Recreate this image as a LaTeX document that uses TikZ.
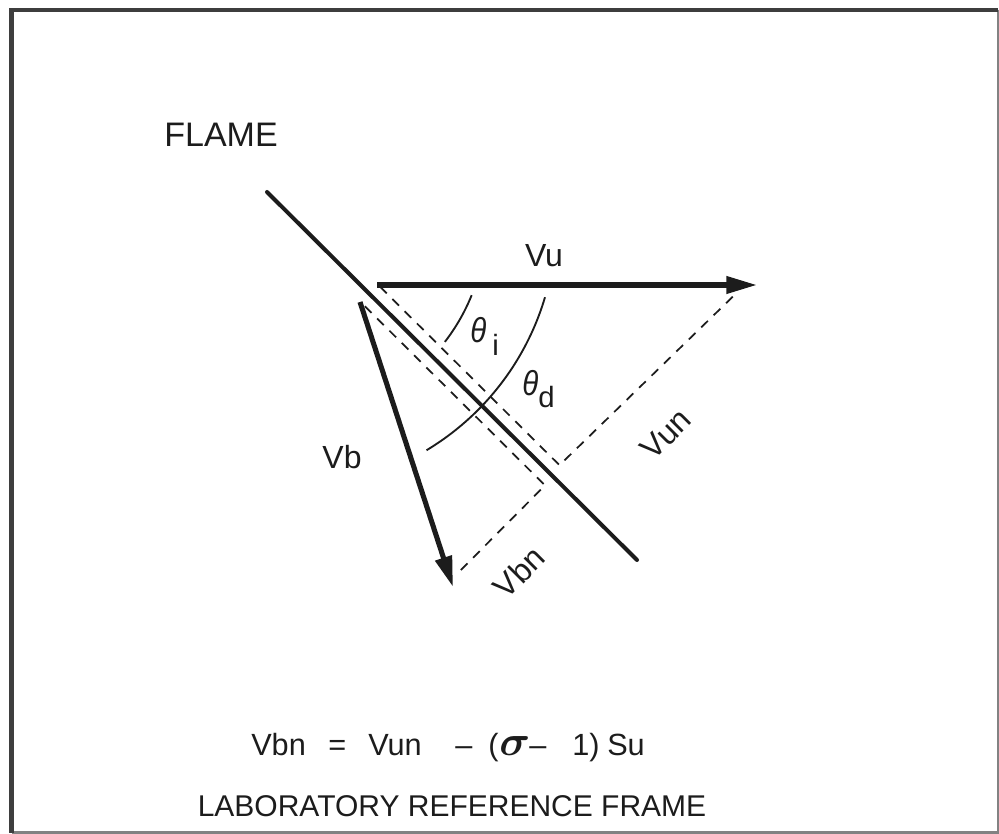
\RequirePackage{fix-cm}
\documentclass[tikz,border=0pt]{standalone}
\usepackage{fontspec}
\usepackage{amsmath}
\setmainfont{Liberation Sans}
\usetikzlibrary{arrows.meta}
\definecolor{ink}{HTML}{1C1C1C}
\newcommand\myfs[1]{\fontsize{#1}{#1}\selectfont}
\newcommand\mytheta{\scalebox{0.85}[1]{\itshape θ}}
\begin{document}
\begin{tikzpicture}[x=0.75pt,y=-0.75pt,
  lbl/.style={inner sep=0pt, text=ink, font=\myfs{24pt}},
  eqtxt/.style={inner sep=0pt, text=ink, font=\myfs{23pt}, anchor=base west},
  thetatxt/.style={inner sep=0pt, text=ink, font=\myfs{26pt}, anchor=base west},
  subtxt/.style={inner sep=0pt, text=ink, font=\myfs{22pt}, anchor=base west},
  vecline/.style={line width=3.8pt, draw=ink, -{Triangle[length=23pt,width=12.5pt]}},
  flameline/.style={line width=3pt, draw=ink, line cap=round},
  dashline/.style={line width=1.3pt, draw=ink, dash pattern=on 7pt off 6pt},
  arcline/.style={line width=1.4pt, draw=ink},
  frameline/.style={line width=3.5pt, draw=ink!85},
  framethin/.style={line width=1.6pt, draw=ink!55}
]
\useasboundingbox (0,0) rectangle (999,834);
\fill[white] (0,0) rectangle (999,834);
% frame
\coordinate (bTL) at (11.5,10);
\coordinate (bTR) at (998,10);
\coordinate (bBR) at (998,832.5);
\coordinate (bBL) at (11.5,832.5);
\draw[framethin] (bTR) -- (bBR) -- (bBL);
\draw[frameline] (bBL) -- (bTL) -- (bTR);
% geometry points
\coordinate (fA) at (267,192);
\coordinate (fB) at (637,560);
\coordinate (vuT) at (377,285);
\coordinate (vuH) at (757,285);
\coordinate (vbT) at (360,302);
\coordinate (vbH) at (453,587);
\coordinate (uA) at (380.1,286.8);
\coordinate (uF) at (559.5,465.2);
\coordinate (uE) at (735,294.5);
\coordinate (lA) at (364.9,306.3);
\coordinate (lF) at (545,485.4);
\coordinate (lE) at (456.8,574.1);
% dashed construction lines
\draw[dashline] (uA) -- (uF) -- (uE);
\draw[dashline] (lA) -- (lF) -- (lE);
% angle arcs (common centre 289,221.4)
\draw[arcline] plot[domain=22:37.7, samples=30, smooth] ({289+197*cos(\x)},{221.4+197*sin(\x)});
\draw[arcline] plot[domain=16.5:59, samples=40, smooth] ({289+267*cos(\x)},{221.4+267*sin(\x)});
% flame
\draw[flameline] (fA) -- (fB);
% vectors
\draw[vecline] (vuT) -- (vuH);
\draw[vecline] (vbT) -- (vbH);
% labels
\node[inner sep=0pt, text=ink, font=\myfs{25.5pt}, anchor=base] (flame) at (221,147) {FLAME};
\node[lbl, anchor=base] (vu) at (544,267) {Vu};
\node[lbl, anchor=base] (vb) at (342,468) {Vb};
\node[lbl, rotate=45] (vun) at (666,434) {Vun};
\node[lbl, rotate=45] (vbn) at (519,572) {Vbn};
\node[thetatxt] (thi) at (470,342) {\mytheta};
\node[subtxt] (thisub) at (492,355) {i};
\node[thetatxt] (thd) at (522,395) {\mytheta};
\node[subtxt] (thdsub) at (538,407) {d};
% equation
\node[eqtxt] (e1) at (251,755) {Vbn};
\node[eqtxt] (e2) at (328,755) {=};
\node[eqtxt] (e3) at (368,755) {Vun};
\node[eqtxt] (e4) at (455,755) {–};
\node[eqtxt] (e5) at (488,755) {(};
\node[eqtxt, font=\myfs{32pt}] (e6) at (499,755) {$\boldsymbol{\sigma}$};
\node[eqtxt] (e7) at (529,755) {–};
\node[eqtxt] (e8) at (572,755) {1)};
\node[eqtxt] (e9) at (607,755) {Su};
\node[inner sep=0pt, text=ink, font=\myfs{22.5pt}, anchor=base] (title) at (452,816) {LABORATORY REFERENCE FRAME};
\end{tikzpicture}
\end{document}
